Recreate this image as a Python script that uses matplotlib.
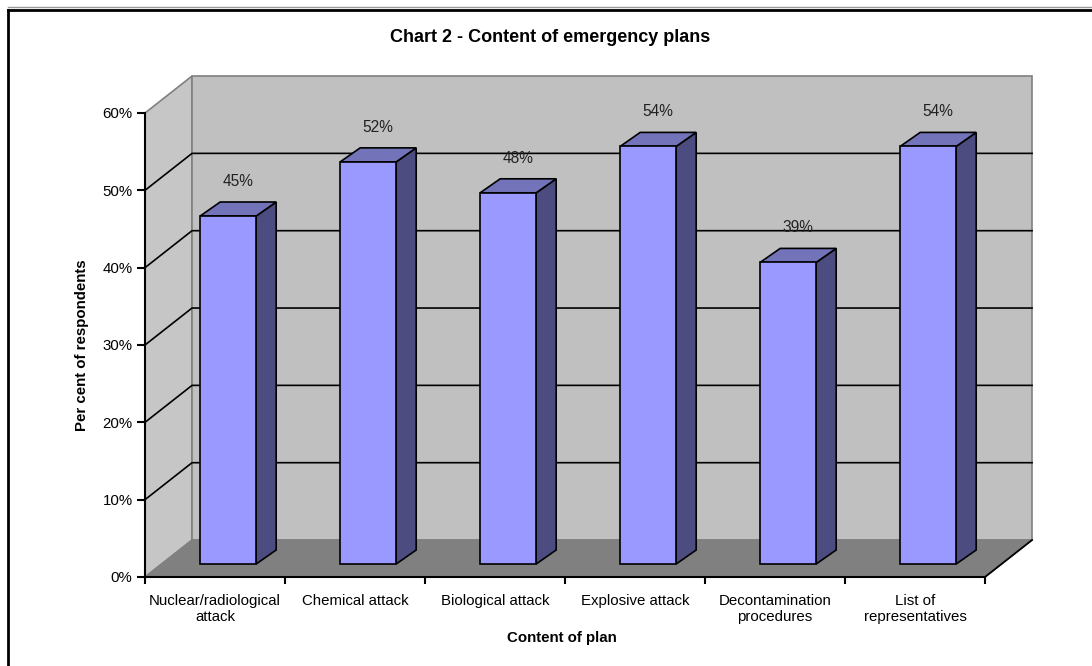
import matplotlib
matplotlib.use("Agg")
import matplotlib.pyplot as plt
from matplotlib.patches import Polygon, Rectangle
from matplotlib.lines import Line2D

plt.rcParams['font.family'] = ['Liberation Sans', 'DejaVu Sans']

categories = ["Nuclear/radiological\nattack", "Chemical attack", "Biological attack",
              "Explosive attack", "Decontamination\nprocedures", "List of\nrepresentatives"]
values = [45, 52, 48, 54, 39, 54]
yticks = [0, 10, 20, 30, 40, 50, 60]
ytick_labels = ["0%", "10%", "20%", "30%", "40%", "50%", "60%"]

# oblique depth of the plot box and of the bars (x in category units, y in %)
DX, DY = 0.336, 4.78
BX0, BY0 = 0.114, 1.68
BDX, BDY = 0.143, 1.81
BAR_LEFT, BAR_W = 0.28, 0.40

FRONT = "#9999FF"
TOP = "#7373BA"
SIDE = "#4C4C80"
WALL = "#C0C0C0"
LWALL = "#C6C6C6"
FLOOR = "#808080"

fig = plt.figure(figsize=(10.92, 6.66), dpi=100)
ax = fig.add_axes([145 / 1092, 89 / 666, 840 / 1092, 464 / 666])
ax.set_xlim(0, len(categories))
ax.set_ylim(0, 60)
ax.patch.set_visible(False)
n = len(categories)

# walls and floor
ax.add_patch(Polygon([(0, 0), (DX, DY), (DX, 60 + DY), (0, 60)], closed=True,
                     facecolor=LWALL, edgecolor="#808080", lw=1.2, zorder=0.5, clip_on=False))
ax.add_patch(Rectangle((DX, DY), n, 60, facecolor=WALL, edgecolor="#808080",
                       lw=1.2, zorder=0.5, clip_on=False))
ax.add_patch(Polygon([(0, 0), (n, 0), (n + DX, DY), (DX, DY)], closed=True,
                     facecolor=FLOOR, edgecolor=FLOOR, lw=1, zorder=0.6, clip_on=False))
ax.plot([n, n + DX], [0, DY], color="black", lw=1.3, zorder=0.7, clip_on=False)

# gridlines along the side wall and the back wall
for g in yticks[1:-1]:
    ax.plot([0, DX, n + DX], [g, g + DY, g + DY], color="black", lw=1.2,
            zorder=0.8, clip_on=False)

# 3D bars
for i, v in enumerate(values):
    x0 = i + BAR_LEFT + BX0
    y0 = BY0
    front = [(x0, y0), (x0 + BAR_W, y0), (x0 + BAR_W, y0 + v), (x0, y0 + v)]
    top = [(x0, y0 + v), (x0 + BAR_W, y0 + v),
           (x0 + BAR_W + BDX, y0 + v + BDY), (x0 + BDX, y0 + v + BDY)]
    side = [(x0 + BAR_W, y0), (x0 + BAR_W + BDX, y0 + BDY),
            (x0 + BAR_W + BDX, y0 + v + BDY), (x0 + BAR_W, y0 + v)]
    for pts, col in ((side, SIDE), (top, TOP), (front, FRONT)):
        ax.add_patch(Polygon(pts, closed=True, facecolor=col, edgecolor="black",
                             lw=1.2, joinstyle="miter", zorder=2, clip_on=False))
    ax.text(x0 + (BAR_W + BDX) / 2, v + BY0 + 4.5, f"{v}%", ha="center", va="center",
            fontsize=11.2, color="#222222", zorder=3, clip_on=False)

# axes
for s in ("top", "right"):
    ax.spines[s].set_visible(False)
ax.spines["left"].set_linewidth(1.5)
ax.spines["bottom"].set_linewidth(1.5)
ax.spines["left"].set_zorder(2.5)
ax.spines["bottom"].set_zorder(2.5)
ax.set_yticks(yticks)
ax.set_yticklabels(ytick_labels, fontsize=10.8)
ax.tick_params(axis="y", direction="out", length=6, width=1.5, pad=3)
ax.set_xticks(range(n + 1))
ax.set_xticklabels([])
ax.tick_params(axis="x", which="major", direction="out", length=5, width=1.5)
ax.set_xticks([i + 0.5 for i in range(n)], minor=True)
ax.set_xticklabels(categories, minor=True, fontsize=10.8, va="top", linespacing=1.25)
ax.tick_params(axis="x", which="minor", length=0, pad=12)

fig.text(550 / 1092, 1 - 37 / 666, "Chart 2 - Content of emergency plans",
         ha="center", va="center", fontsize=13, fontweight="bold")
fig.text(82 / 1092, 1 - 345 / 666, "Per cent of respondents", ha="center", va="center",
         rotation=90, fontsize=10.8, fontweight="bold")
fig.text(562 / 1092, 1 - 638 / 666, "Content of plan", ha="center", va="center",
         fontsize=10.8, fontweight="bold")

# chart area frame
fig.add_artist(Line2D([8 / 1092, 1], [1 - 7 / 666, 1 - 7 / 666], color="#999999", lw=1))
fig.add_artist(Line2D([8 / 1092, 8 / 1092], [0, 1 - 9.5 / 666], color="black", lw=2))
fig.add_artist(Line2D([8 / 1092, 1], [1 - 9.5 / 666, 1 - 9.5 / 666], color="black", lw=2))

fig.savefig("out.png", dpi=100)
